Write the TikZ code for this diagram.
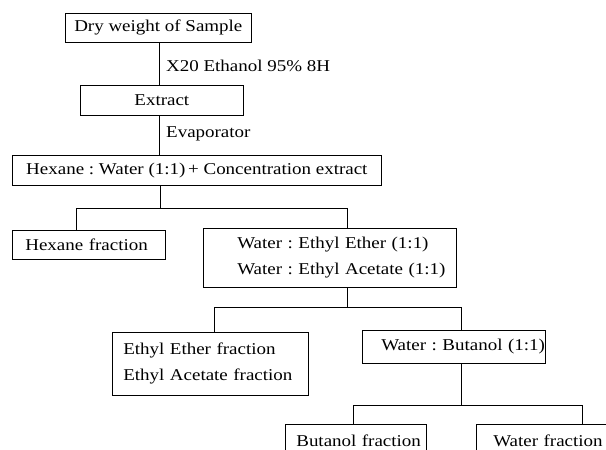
\documentclass[tikz,border=0pt]{standalone}
\usepackage{fontspec}
\setmainfont{Liberation Serif}[FakeStretch=1.15]
\frenchspacing
\begin{document}
\begin{tikzpicture}[x=1pt,y=-1pt,
  txt/.style={font=\fontsize{16.5}{26}\selectfont, text=black},
  box/.style={txt, draw=black, line width=0.7pt, inner sep=0pt, anchor=north west, align=center},
  boxl/.style={txt, draw=black, line width=0.7pt, inner ysep=0pt, anchor=north west, align=left},
  lab/.style={txt, inner sep=0pt, anchor=west},
  conn/.style={draw=black, line width=0.7pt}]
\useasboundingbox (0,0) rectangle (606,450);
\clip (0,0) rectangle (606,450);
\fill[white] (0,0) rectangle (606,450);

\node[box, minimum width=186, minimum height=29] (dry) at (65,13) {Dry weight of Sample};
\node[box, minimum width=163, minimum height=30] (ext) at (80,85) {Extract};
\node[box, minimum width=369, minimum height=30] (hw) at (12,155) {Hexane : Water (1:1)\,+ Concentration extract};
\node[boxl, inner xsep=13, text width=127, minimum height=29] (hf) at (12,230) {\mbox{Hexane fraction}};
\node[boxl, inner xsep=34, text width=185, minimum height=59] (we) at (203,228) {\mbox{Water : Ethyl Ether (1:1)}\\\mbox{Water : Ethyl Acetate (1:1)}};
\node[boxl, inner xsep=11, text width=174, minimum height=63] (ef) at (112,332) {\mbox{Ethyl Ether fraction}\\\mbox{Ethyl Acetate fraction}};
\node[boxl, inner xsep=19, text width=145, minimum height=33] (wb) at (362,330) {\mbox{Water : Butanol (1:1)}};
\node[boxl, inner xsep=11, text width=119, minimum height=32] (bf) at (285,424) {\mbox{Butanol fraction}};
\node[boxl, inner xsep=17, text width=120, minimum height=32] (wf) at (476,424) {\mbox{Water fraction}};

\node[lab] (l1) at (166,66) {X20 Ethanol 95\% 8H};
\node[lab] (l2) at (166,134) {Evaporator};

\coordinate (v1) at (159,0);
\draw[conn] (dry.south -| v1) -- (ext.north -| v1);
\draw[conn] (ext.south -| v1) -- (hw.north -| v1);

\coordinate (j1) at (160,208);
\coordinate (a1) at (76,208);
\coordinate (b1) at (347,208);
\draw[conn] (hw.south -| j1) -- (j1);
\draw[conn] (hf.north -| a1) -- (a1) -- (b1) -- (we.north -| b1);

\coordinate (j2) at (347,307);
\coordinate (a2) at (214,307);
\coordinate (b2) at (461,307);
\draw[conn] (we.south -| j2) -- (j2);
\draw[conn] (ef.north -| a2) -- (a2) -- (b2) -- (wb.north -| b2);

\coordinate (j3) at (461,405);
\coordinate (a3) at (353,405);
\coordinate (b3) at (582,405);
\draw[conn] (wb.south -| j3) -- (j3);
\draw[conn] (bf.north -| a3) -- (a3) -- (b3) -- (wf.north -| b3);
\end{tikzpicture}
\end{document}
